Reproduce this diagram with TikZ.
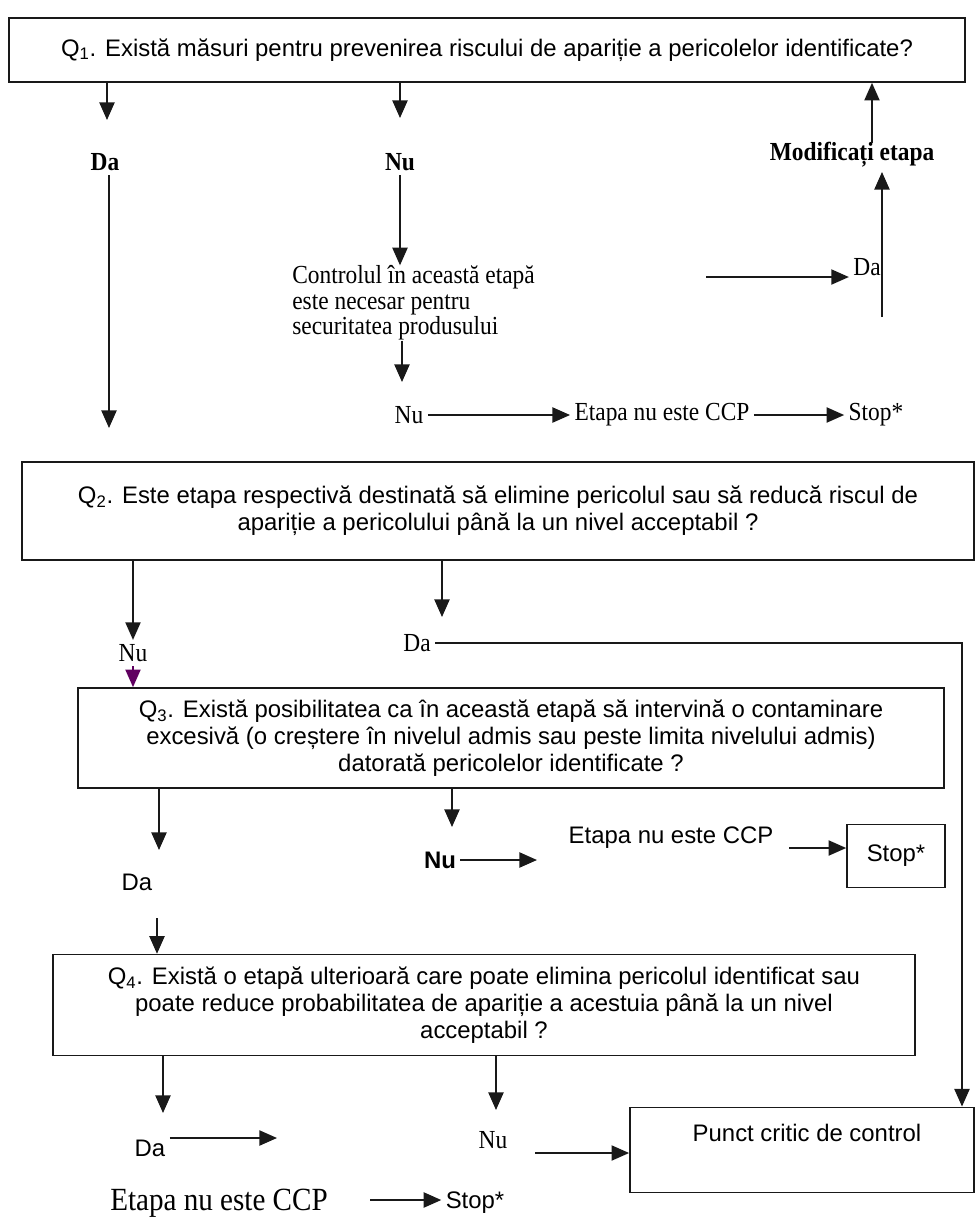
\documentclass[tikz,border=0pt]{standalone}
\usepackage{fontspec}
\setmainfont{Liberation Serif}
\setsansfont{Liberation Sans}
\newfontfamily\narrowserif[FakeStretch=0.9]{Liberation Serif}
\usetikzlibrary{arrows.meta,positioning}
\newcommand\qfont{\sffamily\fontsize{17}{19}\selectfont}
\newcommand\sfl{\sffamily\fontsize{17}{19}\selectfont}
\newcommand\rml{\narrowserif\fontsize{18.5}{18.2}\selectfont}
\tikzset{
  % question box
  qbox/.style   = {rectangle, draw=black!90, line width=1.2pt, align=center,
                   inner sep=0pt, font=\qfont},
  % small end box
  endbox/.style = {rectangle, draw=black!90, line width=1.2pt, inner sep=0pt},
  % answer labels
  lbl/.style    = {font=\sfl, inner sep=3pt},
  slbl/.style   = {font=\rml, inner sep=3pt},
  bslbl/.style  = {font=\rml\bfseries, inner sep=3pt},
  % arrows
  flow/.style   = {-{Triangle[length=4.4mm,width=3.8mm]}, line width=1.1pt, black!90},
}
\begin{document}
\begin{tikzpicture}[x=0.025cm, y=-0.025cm]
  \useasboundingbox (0,0) rectangle (976,1219);

  % --- question boxes ---
  \node[qbox, minimum width=23.9cm, minimum height=1.6cm] (q1) at (487,50)
       {Q\textsubscript{1}. Există măsuri pentru prevenirea riscului de apariție a pericolelor identificate?};
  \node[qbox, minimum width=23.8cm, minimum height=2.45cm] (q2) at (498,511)
       {Q\textsubscript{2}. Este etapa respectivă destinată să elimine pericolul sau să reducă riscul de\\
        apariție a pericolului până la un nivel acceptabil ?};
  \node[qbox, minimum width=21.63cm, minimum height=2.5cm] (q3) at (511,738)
       {Q\textsubscript{3}. Există posibilitatea ca în această etapă să intervină o contaminare\\
        excesivă (o creștere în nivelul admis sau peste limita nivelului admis)\\
        datorată pericolelor identificate ?};
  \node[qbox, minimum width=21.55cm, minimum height=2.52cm] (q4) at (484,1005)
       {Q\textsubscript{4}. Există o etapă ulterioară care poate elimina pericolul identificat sau\\
        poate reduce probabilitatea de apariție a acestuia până la un nivel\\
        acceptabil ?};

  % --- Q1 branch ---
  \node[bslbl] (daA) at (105,162) {Da};
  \node[bslbl] (nuA) at (400,162) {Nu};
  \node[slbl, anchor=west, align=left, inner sep=0pt] (ctrl) at (292,303)
       {Controlul în această etapă\\ este necesar pentru\\ securitatea produsului};
  \node[slbl] (nuB)    at (409,415) {Nu};
  \node[slbl] (etapaA) at (662,415) {Etapa nu este CCP};
  \node[slbl] (stopA)  at (876,415) {Stop*};
  \node[slbl] (daB)    at (867,267) {Da};
  \node[bslbl] (modif) at (852,155) {Modificați etapa};

  \coordinate (q1da)   at (107,120);
  \coordinate (daEnd)  at (109,428);
  \coordinate (q1nu)   at (400,118);
  \coordinate (ctrlNu) at (402,382);
  \coordinate (ctrlR)  at (706,277);
  \coordinate (daUp)   at (882,317);
  \coordinate (modTop) at (872,143);

  \draw[flow] (q1.south -| q1da) -- (q1da);
  \draw[flow] (daA.south -| daEnd) -- (daEnd);
  \draw[flow] (q1.south -| q1nu) -- (q1nu);
  \draw[flow] (nuA.south) -- (nuA.south |- ctrl.north);
  \draw[flow] (ctrl.south -| ctrlNu) -- (ctrlNu);
  \draw[flow] (nuB) -- (etapaA);
  \draw[flow] (etapaA) -- (stopA);
  \draw[flow] (ctrlR) -- (ctrlR -| daB.west);
  \draw[flow] (daUp) -- (daUp |- modif.south);
  \draw[flow] (modTop) -- (modTop |- q1.south);

  % --- Q2 branch ---
  \node[slbl] (nuC) at (133,653) {Nu};
  \node[slbl] (daC) at (417,643) {Da};
  \node[endbox, minimum width=8.6cm, minimum height=2.13cm] (punct) at (802,1150) {};
  \node[lbl] (punctTxt) at (807,1133) {Punct critic de control};

  \coordinate (q2da)  at (442,617);
  \coordinate (rline) at (962,0);

  \draw[flow] (q2.south -| nuC) -- (nuC.north);
  \draw[flow] (q2.south -| q2da) -- (q2da);
  \draw[flow] (daC.east) -| (punct.north -| rline);
  \draw[flow, violet!75!black] (nuC.south) -- (nuC.south |- q3.north);

  % --- Q3 branch ---
  \node[lbl] (daD)    at (137,882) {Da};
  \node[lbl] (nuD)    at (440,860) {\textbf{Nu}};
  \node[lbl] (etapaB) at (671,838) {Etapa nu este CCP};
  \node[endbox, font=\sfl, minimum width=2.45cm, minimum height=1.58cm] (stopB) at (896,856) {Stop*};

  \coordinate (q3da)    at (159,850);
  \coordinate (q3nu)    at (452,827);
  \coordinate (nuDtip)  at (537,852);
  \coordinate (stopArr) at (789,848);
  \coordinate (daDdown) at (157,918);

  \draw[flow] (q3.south -| q3da) -- (q3da);
  \draw[flow] (q3.south -| q3nu) -- (q3nu);
  \draw[flow] (nuD.east) -- (nuD.east -| nuDtip);
  \draw[flow] (stopArr) -- (stopArr -| stopB.west);
  \draw[flow] (daDdown) -- (daDdown |- q4.north);

  % --- Q4 branch ---
  \node[lbl]  (daE)    at (150,1148) {Da};
  \node[slbl] (nuE)    at (493,1140) {Nu};
  \node[slbl, font=\narrowserif\fontsize{23}{24}\selectfont] (etapaC) at (219,1203) {Etapa nu este CCP};
  \node[lbl]  (stopC)  at (475,1203) {Stop*};

  \coordinate (q4da)   at (163,1113);
  \coordinate (q4nu)   at (496,1110);
  \coordinate (daEtip) at (277,1138);
  \coordinate (nuEarr) at (535,1153);
  \coordinate (ccpArr) at (370,1200);

  \draw[flow] (q4.south -| q4da) -- (q4da);
  \draw[flow] (q4.south -| q4nu) -- (q4nu);
  \draw[flow] (daE.east |- daEtip) -- (daEtip);
  \draw[flow] (nuEarr) -- (nuEarr -| punct.west);
  \draw[flow] (ccpArr) -- (ccpArr -| stopC.west);

\end{tikzpicture}
\end{document}
